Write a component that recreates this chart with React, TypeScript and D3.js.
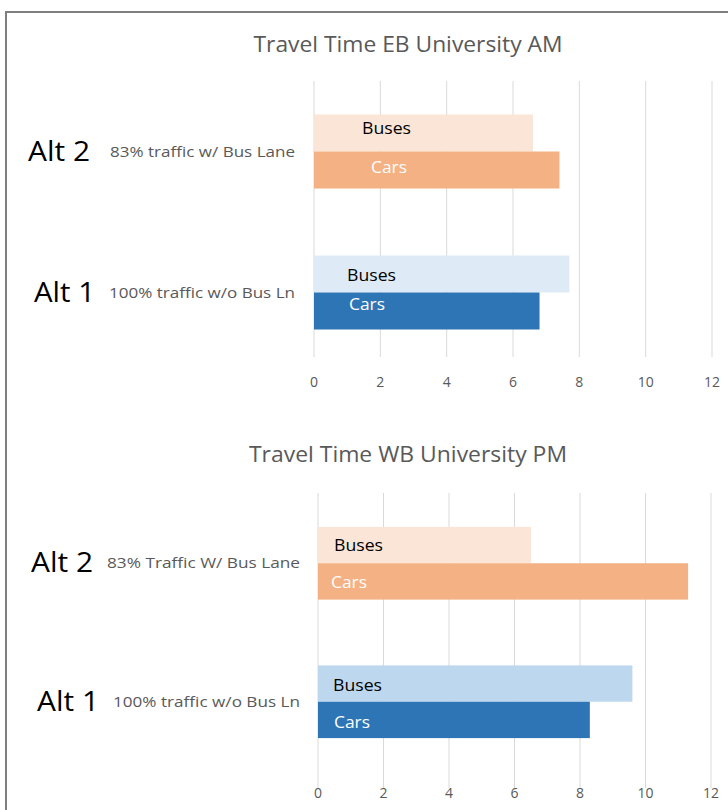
import React from "react";
import * as d3 from "d3";

const categories = ["Alt 2", "Alt 1"];
const topSubLabels = ["83% traffic w/ Bus Lane", "100% traffic w/o Bus Ln"];
const bottomSubLabels = ["83% Traffic W/ Bus Lane", "100% traffic w/o Bus Ln"];
const topBuses = [6.6, 7.7];
const topCars = [7.4, 6.8];
const bottomBuses = [6.5, 9.6];
const bottomCars = [11.3, 8.3];
const xTicks = [0, 2, 4, 6, 8, 10, 12];
const seriesNames = ["Buses", "Cars"];

const FONT = "'Liberation Sans Narrow', 'Open Sans', 'Noto Sans', sans-serif";

type ChartProps = {
  title: string;
  titleX: number;
  titleY: number;
  titleLen: number;
  x0: number;
  x12: number;
  gridTop: number;
  gridBottom: number;
  bandTop: number;
  bandBottom: number;
  tickY: number;
  buses: number[];
  cars: number[];
  subLabels: string[];
  busColors: string[];
  carColors: string[];
  altX: number[];
  altLens: number[];
  subX: number[];
  subLens: number[];
  busLabelX: number[];
  carLabelX: number[];
  busLabelDy: number[];
  carLabelDy: number[];
};

function Chart(p: ChartProps) {
  const x = d3.scaleLinear().domain([0, 12]).range([p.x0, p.x12]);
  const y = d3
    .scaleBand<string>()
    .domain(categories)
    .range([p.bandTop, p.bandBottom])
    .paddingInner(0.475)
    .paddingOuter(0.2375);
  const bw = y.bandwidth();
  const half = bw / 2;
  return (
    <g>
      <text
        x={p.titleX}
        y={p.titleY}
        textAnchor="middle"
        fontSize={21}
        fill="#595959"
        fontFamily={FONT}
        textLength={p.titleLen}
        lengthAdjust="spacingAndGlyphs"
      >
        {p.title}
      </text>
      {xTicks.map((t) => (
        <g key={t}>
          <line
            x1={x(t)}
            x2={x(t)}
            y1={p.gridTop}
            y2={p.gridBottom}
            stroke="#d9d9d9"
            strokeWidth={1}
          />
          <text
            x={x(t)}
            y={p.tickY}
            textAnchor="middle"
            fontSize={14}
            fill="#595959"
            fontFamily={FONT}
          >
            {t}
          </text>
        </g>
      ))}
      {categories.map((c, i) => {
        const top = y(c) as number;
        const cy = top + half;
        return (
          <g key={c}>
            <rect
              x={x(0)}
              y={top}
              width={x(p.buses[i]) - x(0)}
              height={half}
              fill={p.busColors[i]}
            />
            <rect
              x={x(0)}
              y={top + half}
              width={x(p.cars[i]) - x(0)}
              height={half}
              fill={p.carColors[i]}
            />
            <text
              x={p.busLabelX[i]}
              y={top + half / 2 + 5 + p.busLabelDy[i]}
              fontSize={16}
              fill="#000"
              fontFamily={FONT}
              textLength={49}
              lengthAdjust="spacingAndGlyphs"
            >
              {seriesNames[0]}
            </text>
            <text
              x={p.carLabelX[i]}
              y={top + half + half / 2 + 5 + p.carLabelDy[i]}
              fontSize={16}
              fill="#fff"
              fontFamily={FONT}
              textLength={36}
              lengthAdjust="spacingAndGlyphs"
            >
              {seriesNames[1]}
            </text>
            <text
              x={p.altX[i]}
              y={cy + 9}
              fontSize={27}
              fill="#000"
              fontFamily={FONT}
              textLength={p.altLens[i]}
              lengthAdjust="spacingAndGlyphs"
            >
              {c}
            </text>
            <text
              x={p.subX[i]}
              y={cy + 5}
              fontSize={15}
              fill="#595959"
              fontFamily={FONT}
              textLength={p.subLens[i]}
              lengthAdjust="spacingAndGlyphs"
            >
              {p.subLabels[i]}
            </text>
          </g>
        );
      })}
    </g>
  );
}

export default function App() {
  return (
    <svg
      width={728}
      height={810}
      style={{ position: "absolute", left: 0, top: 0, background: "#fff" }}
    >
      <rect x={0} y={0} width={728} height={810} fill="#fff" />
      <line x1={5} x2={728} y1={12} y2={12} stroke="#7f7f7f" strokeWidth={2} />
      <line x1={6} x2={6} y1={11} y2={810} stroke="#7f7f7f" strokeWidth={2} />
      <Chart
        title="Travel Time EB University AM"
        titleX={408}
        titleY={52}
        titleLen={309}
        x0={314}
        x12={712}
        gridTop={81}
        gridBottom={357}
        bandTop={81}
        bandBottom={363}
        tickY={387}
        buses={topBuses}
        cars={topCars}
        subLabels={topSubLabels}
        busColors={["#FBE5D6", "#DEEBF7"]}
        carColors={["#F4B183", "#2E75B6"]}
        altX={[28, 34]}
        altLens={[62, 61]}
        subX={[110, 109]}
        subLens={[185, 186]}
        busLabelX={[362, 347]}
        carLabelX={[371, 349]}
        busLabelDy={[-3.5, 2.5]}
        carLabelDy={[-2, -6.5]}
      />
      <Chart
        title="Travel Time WB University PM"
        titleX={408}
        titleY={462}
        titleLen={318}
        x0={318}
        x12={711}
        gridTop={493}
        gridBottom={788}
        bandTop={494}
        bandBottom={771}
        tickY={798}
        buses={bottomBuses}
        cars={bottomCars}
        subLabels={bottomSubLabels}
        busColors={["#FBE5D6", "#BDD7EE"]}
        carColors={["#F4B183", "#2E75B6"]}
        altX={[31, 37]}
        altLens={[62, 62]}
        subX={[107, 113]}
        subLens={[193, 187]}
        busLabelX={[334, 333]}
        carLabelX={[331, 334]}
        busLabelDy={[1, 2.5]}
        carLabelDy={[2, 3]}
      />
    </svg>
  );
}
